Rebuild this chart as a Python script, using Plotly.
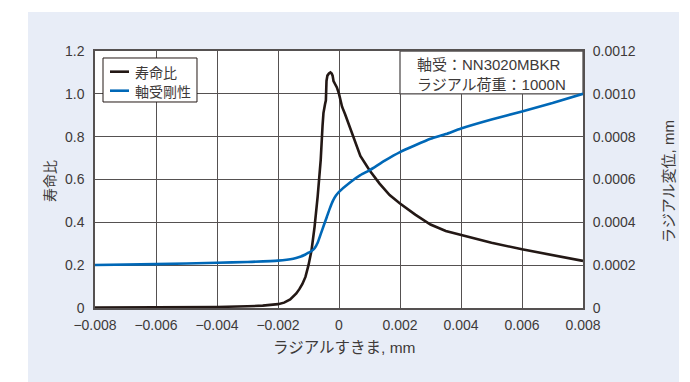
import plotly.graph_objects as go

# Radial clearance (mm) vs. life ratio
life_x = [-0.008, -0.006, -0.004, -0.003, -0.0025, -0.002, -0.0018, -0.0016, -0.0015,
          -0.0014, -0.0013, -0.0012, -0.0011, -0.001, -0.0009, -0.0008, -0.0007, -0.0006,
          -0.00054, -0.00051, -0.00046, -0.00043, -0.00041, -0.00038, -0.00033, -0.00028,
          -0.00024, -0.00021, -0.00018, -0.00014, -0.00007, 0.0, 0.0001, 0.0002, 0.0003,
          0.0004, 0.0005, 0.0006, 0.0007, 0.001, 0.00133, 0.00166, 0.002, 0.0025, 0.003,
          0.0035, 0.004, 0.005, 0.006, 0.007, 0.008]
life_ratio = [0.002, 0.003, 0.005, 0.008, 0.011, 0.018, 0.025, 0.040, 0.054,
              0.068, 0.088, 0.112, 0.145, 0.20, 0.27, 0.38, 0.52, 0.69,
              0.85, 0.91, 0.95, 0.97, 1.06, 1.085, 1.095, 1.10,
              1.095, 1.085, 1.06, 1.05, 1.03, 1.0, 0.94, 0.905, 0.865,
              0.82, 0.78, 0.745, 0.71, 0.643, 0.581, 0.527, 0.488, 0.436, 0.39,
              0.36, 0.341, 0.305, 0.274, 0.247, 0.22]

# Radial clearance (mm) vs. radial displacement (mm)
stiff_x = [-0.008, -0.006, -0.004, -0.003, -0.002, -0.0015, -0.0013, -0.0011, -0.001,
           -0.0009, -0.0008, -0.0007, -0.0006, -0.0005, -0.0004, -0.0003, -0.0002, -0.0001,
           0.0, 0.00035, 0.0007, 0.001, 0.0015, 0.002, 0.0025, 0.003, 0.0035, 0.004,
           0.005, 0.006, 0.007, 0.008]
displacement = [0.000201, 0.000205, 0.000211, 0.000215, 0.000221, 0.000230, 0.000238,
                0.000250, 0.000258, 0.000266, 0.000279, 0.000305, 0.000345, 0.000385,
                0.000425, 0.000465, 0.000500, 0.000525, 0.000542, 0.000585, 0.000620,
                0.000643, 0.000688, 0.000728, 0.000760, 0.000790, 0.000812, 0.000838,
                0.000880, 0.000918, 0.000957, 0.001000]

x_ticks = [-0.008, -0.006, -0.004, -0.002, 0, 0.002, 0.004, 0.006, 0.008]
x_tick_labels = ["\u22120.008", "\u22120.006", "\u22120.004", "\u22120.002", "0",
                 "0.002", "0.004", "0.006", "0.008"]
y_ticks = [0, 0.2, 0.4, 0.6, 0.8, 1.0, 1.2]
y_tick_labels = ["0", "0.2", "0.4", "0.6", "0.8", "1.0", "1.2"]
y2_ticks = [0, 0.0002, 0.0004, 0.0006, 0.0008, 0.0010, 0.0012]
y2_tick_labels = ["0", "0.0002", "0.0004", "0.0006", "0.0008", "0.0010", "0.0012"]

series_names = ["寿命比", "軸受剛性"]
info_lines = ["軸受：NN3020MBKR", "ラジアル荷重：1000N"]

BLACK = "#231815"
BLUE = "#0068B7"
GRID = "#555151"
TEXT = "#3e3a39"
PANEL = "#E8EDF7"
MIXED = "Liberation Sans, Noto Sans CJK JP, sans-serif"
JP = "Noto Sans CJK JP"
NUM = "Liberation Sans, Arial, sans-serif"

fig = go.Figure()
fig.add_trace(go.Scatter(x=life_x, y=life_ratio, mode="lines", name=series_names[0],
                         line=dict(color=BLACK, width=2.6), yaxis="y"))
fig.add_trace(go.Scatter(x=stiff_x, y=displacement, mode="lines", name=series_names[1],
                         line=dict(color=BLUE, width=2.6, shape="spline", smoothing=0.5),
                         yaxis="y2"))

axis_common = dict(showgrid=True, gridcolor=GRID, gridwidth=1.3, showline=True,
                   linecolor=GRID, linewidth=1.5, zeroline=False, ticks="outside",
                   tickcolor="rgba(0,0,0,0)", tickfont=dict(family=NUM, size=14, color=TEXT))

fig.update_layout(
    width=690, height=382,
    margin=dict(l=95, r=107, t=51, b=74),
    paper_bgcolor="white", plot_bgcolor="white",
    showlegend=False,
    xaxis=dict(range=[-0.008, 0.008], tickvals=x_ticks, ticktext=x_tick_labels,
               mirror=True, ticklen=3, **axis_common),
    yaxis=dict(range=[0, 1.2], tickvals=y_ticks, ticktext=y_tick_labels,
               mirror=True, ticklen=6, **axis_common),
    yaxis2=dict(range=[0, 0.0012], tickvals=y2_ticks, ticktext=y2_tick_labels,
                overlaying="y", side="right", showgrid=False, showline=False,
                zeroline=False, ticks="outside", ticklen=6, tickcolor="rgba(0,0,0,0)",
                tickfont=dict(family=NUM, size=14, color=TEXT)),
)

shapes = [
    # light panel behind the chart
    dict(type="rect", xref="paper", yref="paper", x0=-0.1373, x1=1.1967, y0=-0.35, y1=1.1518,
         fillcolor=PANEL, line=dict(width=0), layer="below"),
    dict(type="rect", xref="paper", yref="paper", x0=0, x1=1, y0=0, y1=1,
         fillcolor="white", line=dict(width=0), layer="below"),
    # white note cell in the upper right corner
    dict(type="rect", xref="x", yref="y", x0=0.002, x1=0.008, y0=1.0, y1=1.2,
         fillcolor="white", line=dict(color=GRID, width=1.3), layer="between"),
    # legend box
    dict(type="rect", xref="paper", yref="paper", x0=0.0164, x1=0.209, y0=0.8016, y1=0.9728,
         fillcolor="white", line=dict(color=BLACK, width=1), layer="above"),
    dict(type="line", xref="paper", yref="paper", x0=0.0307, x1=0.0697, y0=0.9195, y1=0.9195,
         line=dict(color=BLACK, width=2.6), layer="above"),
    dict(type="line", xref="paper", yref="paper", x0=0.0307, x1=0.0697, y0=0.8455, y1=0.8455,
         line=dict(color=BLUE, width=2.6), layer="above"),
]
fig.update_layout(shapes=shapes)

annotations = [
    dict(text=series_names[0], x=0.0773, y=0.9195, xanchor="left", yanchor="middle",
         font=dict(family=JP, size=14, color=TEXT)),
    dict(text=series_names[1], x=0.0773, y=0.8455, xanchor="left", yanchor="middle",
         font=dict(family=JP, size=14, color=TEXT)),
    dict(text="<br>".join(info_lines), x=0.6557, y=0.9097, xanchor="left", yanchor="middle",
         align="left", font=dict(family=MIXED, size=15, color=TEXT)),
    dict(text="寿命比", x=-0.0943, y=0.494, textangle=-90, xanchor="center", yanchor="middle",
         font=dict(family=JP, size=14, color=TEXT)),
    dict(text="ラジアル変位, mm", x=1.174, y=0.494, textangle=-90, xanchor="center",
         yanchor="middle", font=dict(family=MIXED, size=15, color=TEXT)),
    dict(text="ラジアルすきま, mm", x=0.510, y=-0.152, xanchor="center", yanchor="middle",
         font=dict(family=MIXED, size=15.5, color=TEXT)),
]
for a in annotations:
    a.update(xref="paper", yref="paper", showarrow=False)
fig.update_layout(annotations=annotations)

fig.write_html("out.html")
